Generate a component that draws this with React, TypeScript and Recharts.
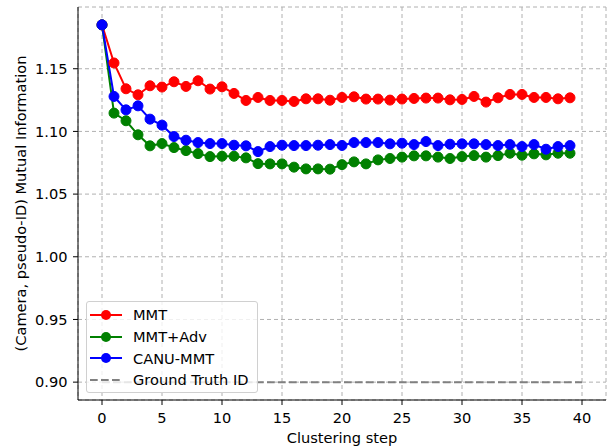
import React from 'react';
import { LineChart, Line, XAxis, YAxis, CartesianGrid, Legend } from 'recharts';

const steps = [0, 1, 2, 3, 4, 5, 6, 7, 8, 9, 10, 11, 12, 13, 14, 15, 16, 17, 18, 19, 20, 21, 22, 23, 24, 25, 26, 27, 28, 29, 30, 31, 32, 33, 34, 35, 36, 37, 38, 39];

const mmt = [1.185, 1.1546, 1.134, 1.1292, 1.1364, 1.1354, 1.1396, 1.1359, 1.1404, 1.1338, 1.1356, 1.1303, 1.1247, 1.1271, 1.1247, 1.1247, 1.1239, 1.126, 1.126, 1.1249, 1.1271, 1.1276, 1.1258, 1.1258, 1.125, 1.1258, 1.1263, 1.1266, 1.1266, 1.1252, 1.1255, 1.1279, 1.1234, 1.1268, 1.1295, 1.1295, 1.1271, 1.1271, 1.126, 1.1268];

const mmtAdv = [1.185, 1.1146, 1.1085, 1.0973, 1.0885, 1.0903, 1.0871, 1.0847, 1.0823, 1.0799, 1.0802, 1.0802, 1.0789, 1.0743, 1.0741, 1.0741, 1.0715, 1.0701, 1.0701, 1.0699, 1.0735, 1.0757, 1.0741, 1.0773, 1.0784, 1.0795, 1.0805, 1.0805, 1.0795, 1.0784, 1.0799, 1.0807, 1.0795, 1.0807, 1.0826, 1.081, 1.0821, 1.0813, 1.0826, 1.0826];

const canuMmt = [1.185, 1.1279, 1.1172, 1.1204, 1.1098, 1.105, 1.0959, 1.093, 1.0911, 1.0903, 1.0903, 1.089, 1.0885, 1.0839, 1.0879, 1.089, 1.0887, 1.0887, 1.089, 1.0895, 1.0888, 1.0911, 1.0911, 1.0911, 1.0901, 1.0906, 1.0895, 1.0919, 1.0887, 1.0898, 1.0901, 1.0901, 1.0895, 1.0887, 1.0895, 1.0879, 1.0895, 1.0858, 1.0879, 1.0887];

const gtSteps = [0, 40];
const gtValues = [0.9, 0.9];

const xTicks = [0, 5, 10, 15, 20, 25, 30, 35, 40];
const yTicks = [0.9, 0.95, 1.0, 1.05, 1.1, 1.15];

const seriesNames = ['MMT', 'MMT+Adv', 'CANU-MMT', 'Ground Truth ID'];
const seriesColors = ['#ff0000', '#008000', '#0000ff', '#808080'];

const data = steps.map((s, i) => ({ x: s, mmt: mmt[i], adv: mmtAdv[i], canu: canuMmt[i] }));
const gtData = gtSteps.map((s, i) => ({ x: s, gt: gtValues[i] }));

const X_DOMAIN: [number, number] = [-2, 42];
const Y_DOMAIN: [number, number] = [0.88575, 1.19925];
const FS = 14.6;

const LegendBox = () => (
  <div
    style={{
      width: 172,
      height: 92,
      boxSizing: 'border-box',
      border: '1px solid #d0d0d0',
      borderRadius: 3,
      background: 'rgba(255,255,255,0.8)',
      paddingTop: 2,
      fontSize: FS,
      color: '#000',
    }}
  >
    {seriesNames.map((name, i) => (
      <div key={name} style={{ display: 'flex', alignItems: 'center', height: 21.7 }}>
        <svg width={46} height={14} style={{ flex: 'none' }}>
          {i < 3 ? (
            <>
              <line x1={3} y1={7} x2={35} y2={7} stroke={seriesColors[i]} strokeWidth={2} />
              <circle cx={19} cy={7} r={5} fill={seriesColors[i]} />
            </>
          ) : (
            <line x1={3} y1={7} x2={35} y2={7} stroke={seriesColors[i]} strokeWidth={2} strokeDasharray="7.7 3.3" />
          )}
        </svg>
        <span style={{ whiteSpace: 'nowrap' }}>{name}</span>
      </div>
    ))}
  </div>
);

export default function App() {
  return (
    <div style={{ position: 'absolute', left: 0, top: 0, width: 616, height: 448, fontFamily: '"DejaVu Sans", sans-serif', background: '#fff' }}>
      <LineChart width={616} height={448} margin={{ top: 7, right: 10, left: 0, bottom: 0 }}>
        <CartesianGrid stroke="#b0b0b0" strokeDasharray="4 3" strokeWidth={1} />
        <XAxis
          type="number"
          dataKey="x"
          domain={X_DOMAIN}
          ticks={xTicks}
          allowDataOverflow
          height={48}
          stroke="#000"
          tickSize={5}
          tickMargin={7.5}
          tick={{ fill: '#000', fontSize: FS }}
          label={{ value: 'Clustering step', position: 'insideBottom', offset: 5, style: { fill: '#000', fontSize: FS } }}
        />
        <XAxis xAxisId="top" orientation="top" type="number" dataKey="x" domain={X_DOMAIN} allowDataOverflow height={0} stroke="#000" tick={false} tickLine={false} />
        <YAxis
          type="number"
          domain={Y_DOMAIN}
          ticks={yTicks}
          allowDataOverflow
          width={78}
          stroke="#000"
          tickSize={5}
          tickMargin={5.5}
          tickFormatter={(v: number) => v.toFixed(2)}
          tick={{ fill: '#000', fontSize: FS }}
          label={{ value: '(Camera, pseudo-ID) Mutual Information', angle: -90, position: 'insideLeft', offset: 21, style: { textAnchor: 'middle', fill: '#000', fontSize: FS } }}
        />
        <YAxis yAxisId="right" orientation="right" type="number" domain={Y_DOMAIN} allowDataOverflow width={0} stroke="#000" tick={false} tickLine={false} />
        <Line data={data} dataKey="mmt" name={seriesNames[0]} stroke={seriesColors[0]} strokeWidth={2} dot={{ r: 5, fill: seriesColors[0], stroke: seriesColors[0], strokeWidth: 1 }} isAnimationActive={false} />
        <Line data={data} dataKey="adv" name={seriesNames[1]} stroke={seriesColors[1]} strokeWidth={2} dot={{ r: 5, fill: seriesColors[1], stroke: seriesColors[1], strokeWidth: 1 }} isAnimationActive={false} />
        <Line data={data} dataKey="canu" name={seriesNames[2]} stroke={seriesColors[2]} strokeWidth={2} dot={{ r: 5, fill: seriesColors[2], stroke: seriesColors[2], strokeWidth: 1 }} isAnimationActive={false} />
        <Line data={gtData} dataKey="gt" name={seriesNames[3]} stroke={seriesColors[3]} strokeWidth={2} strokeDasharray="7.7 3.3" dot={false} isAnimationActive={false} />
        <Legend
          layout="vertical"
          align="center"
          verticalAlign="middle"
          wrapperStyle={{ left: 86, top: 301, width: 172, height: 92 }}
          content={() => <LegendBox />}
        />
      </LineChart>
    </div>
  );
}
